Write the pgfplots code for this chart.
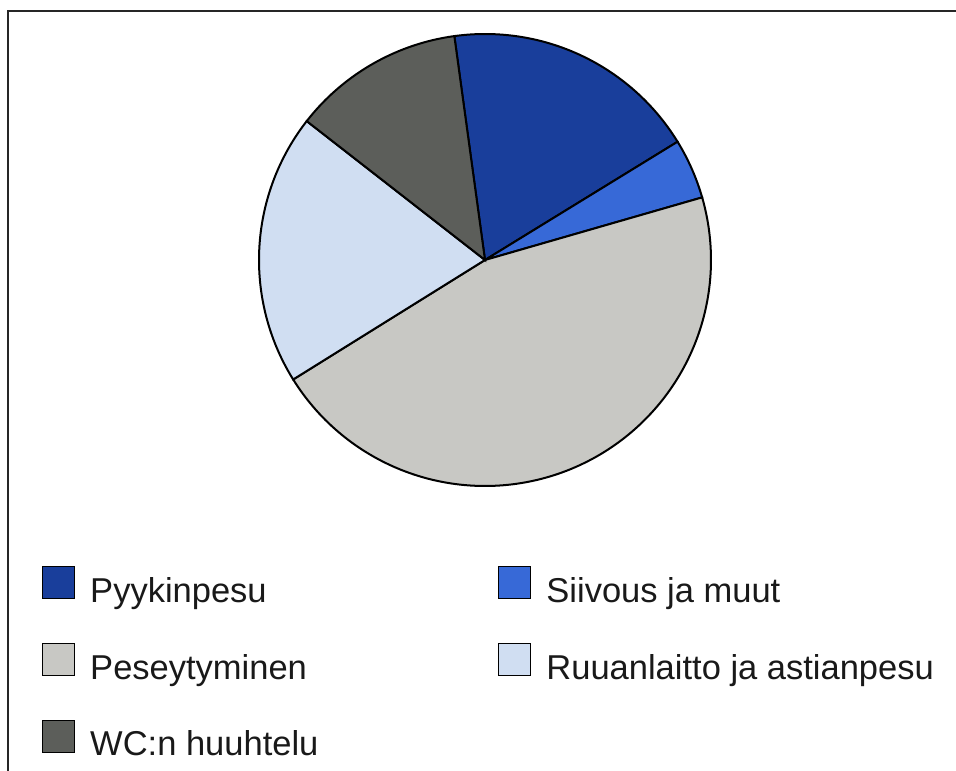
\documentclass[border=0pt]{standalone}
\usepackage{pgfplots}
\usepackage{pgfplotstable}
\pgfplotsset{compat=1.18}
\usepackage{fontspec}
\setmainfont{Liberation Sans}

\definecolor{cA}{RGB}{25,62,155}
\definecolor{cB}{RGB}{55,105,215}
\definecolor{cC}{RGB}{200,200,196}
\definecolor{cD}{RGB}{208,222,242}
\definecolor{cE}{RGB}{92,94,90}

% shares in percent
\pgfplotstableread{
label value
Pyykinpesu 18.4
Siivous 4.3
Peseytyminen 45.6
Ruuanlaitto 19.4
WC 12.3
}\piedata

\begin{document}
\begin{tikzpicture}[x=1pt,y=1pt]
\useasboundingbox (0,0) rectangle (956,771);
\draw[line width=1.6pt, black!85] (8,0) -- (8,760) -- (956,760);

\pgfplotstablegetelem{0}{value}\of\piedata \let\vA=\pgfplotsretval
\pgfplotstablegetelem{1}{value}\of\piedata \let\vB=\pgfplotsretval
\pgfplotstablegetelem{2}{value}\of\piedata \let\vC=\pgfplotsretval
\pgfplotstablegetelem{3}{value}\of\piedata \let\vD=\pgfplotsretval
\pgfplotstablegetelem{4}{value}\of\piedata \let\vE=\pgfplotsretval
\pgfmathsetmacro\aA{97.8}
\pgfmathsetmacro\aB{\aA-3.6*\vA}
\pgfmathsetmacro\aC{\aB-3.6*\vB}
\pgfmathsetmacro\aD{\aC-3.6*\vC}
\pgfmathsetmacro\aE{\aD-3.6*\vD}
\pgfmathsetmacro\aF{\aE-3.6*\vE}

\begin{axis}[
  at={(485pt,511pt)}, anchor=center,
  width=452pt, height=452pt, scale only axis,
  xmin=-1, xmax=1, ymin=-1, ymax=1,
  hide axis, clip=false,
  legend columns=2,
  legend cell align=left,
  legend image code/.code={\draw[#1, line width=1pt] (0pt,-8pt) rectangle (32pt,24pt);},
  legend style={
    at={(-0.480,-0.177)}, anchor=north west,
    draw=none, fill=none, inner sep=0pt,
    font=\fontsize{34.5}{41}\selectfont,
    text=black!90,
    row sep=39pt,
    nodes={inner sep=0pt},
    /tikz/column 1/.style={column sep=15pt},
    /tikz/column 2/.style={column sep=180pt},
    /tikz/column 3/.style={column sep=15pt},
  },
]
\addplot[fill=cA, draw=black, line width=2pt, domain=\aB:\aA, samples=80, variable=\t]
  ({cos(\t)},{sin(\t)}) -- (axis cs:0,0) -- cycle;
\addlegendentry{Pyykinpesu}
\addplot[fill=cB, draw=black, line width=2pt, domain=\aC:\aB, samples=30, variable=\t]
  ({cos(\t)},{sin(\t)}) -- (axis cs:0,0) -- cycle;
\addlegendentry{Siivous ja muut}
\addplot[fill=cC, draw=black, line width=2pt, domain=\aD:\aC, samples=150, variable=\t]
  ({cos(\t)},{sin(\t)}) -- (axis cs:0,0) -- cycle;
\addlegendentry{Peseytyminen}
\addplot[fill=cD, draw=black, line width=2pt, domain=\aE:\aD, samples=80, variable=\t]
  ({cos(\t)},{sin(\t)}) -- (axis cs:0,0) -- cycle;
\addlegendentry{Ruuanlaitto ja astianpesu}
\addplot[fill=cE, draw=black, line width=2pt, domain=\aF:\aE, samples=60, variable=\t]
  ({cos(\t)},{sin(\t)}) -- (axis cs:0,0) -- cycle;
\addlegendentry{WC:n huuhtelu}
\end{axis}
\end{tikzpicture}
\end{document}
